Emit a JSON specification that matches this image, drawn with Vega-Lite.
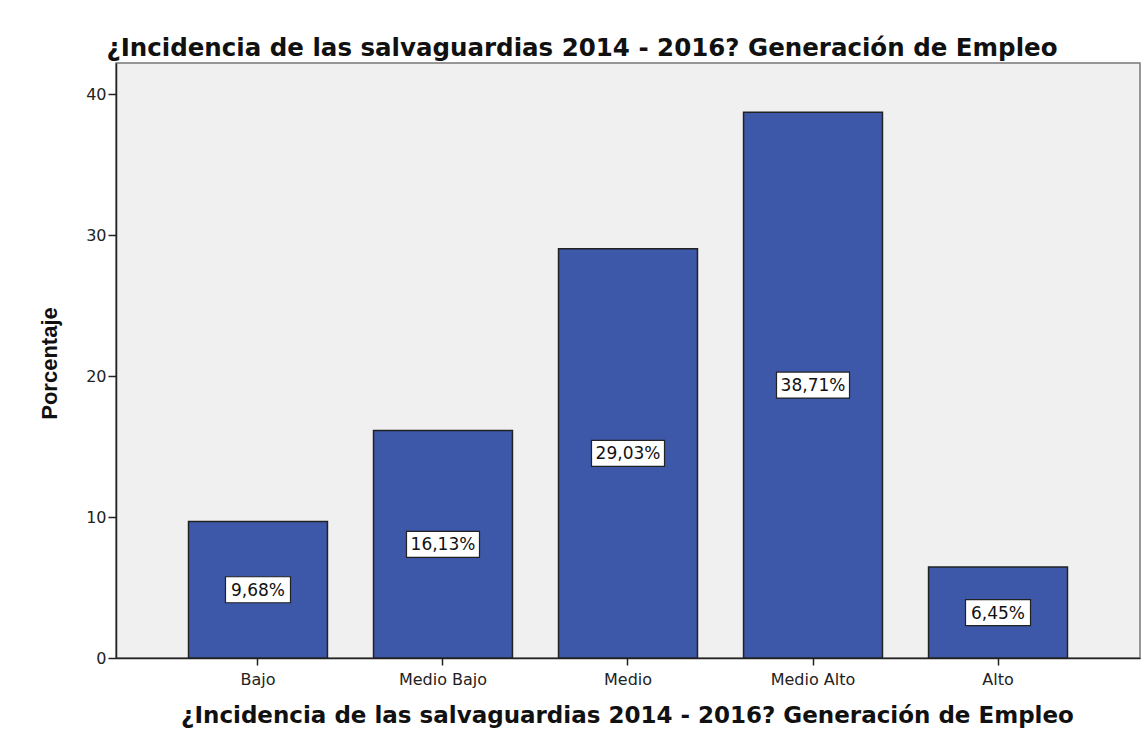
{
  "$schema": "https://vega.github.io/schema/vega-lite/v6.json",
  "width": 1024,
  "height": 595,
  "autosize": {"type": "none"},
  "padding": {"left": 116, "top": 63, "right": 2, "bottom": 81},
  "background": "white",
  "title": {
    "text": "¿Incidencia de las salvaguardias 2014 - 2016? Generación de Empleo",
    "font": "DejaVu Sans",
    "fontSize": 24.5,
    "fontWeight": "bold",
    "color": "#111111",
    "anchor": "middle",
    "frame": "group",
    "dx": -46,
    "dy": 25,
    "offset": 8,
    "baseline": "alphabetic"
  },
  "config": {
    "view": {"fill": "#f0f0f0", "stroke": "#777777", "strokeWidth": 1.5},
    "axis": {"grid": false}
  },
  "data": {
    "values": [
      {"cat": "Bajo", "value": 9.68, "label": "9,68%"},
      {"cat": "Medio Bajo", "value": 16.13, "label": "16,13%"},
      {"cat": "Medio", "value": 29.03, "label": "29,03%"},
      {"cat": "Medio Alto", "value": 38.71, "label": "38,71%"},
      {"cat": "Alto", "value": 6.45, "label": "6,45%"}
    ]
  },
  "transform": [
    {"calculate": "datum.value / 2", "as": "mid"},
    {"calculate": "length(datum.label)", "as": "len"}
  ],
  "encoding": {
    "x": {
      "field": "cat",
      "type": "nominal",
      "sort": null,
      "scale": {"paddingInner": 0.249, "paddingOuter": 0.392},
      "axis": {
        "title": "¿Incidencia de las salvaguardias 2014 - 2016? Generación de Empleo",
        "titleFont": "DejaVu Sans",
        "titleFontSize": 23,
        "titleFontWeight": "bold",
        "titleColor": "#111111",
        "titleBaseline": "alphabetic",
        "titleAnchor": "middle",
        "titleX": 511,
        "titleY": 64,
        "labelFont": "DejaVu Sans",
        "labelFontSize": 16,
        "labelColor": "#222222",
        "labelAngle": 0,
        "labelBaseline": "alphabetic",
        "labelPadding": 19,
        "tickSize": 7,
        "tickColor": "#222222",
        "tickWidth": 1.5,
        "domainColor": "#222222",
        "domainWidth": 1.5
      }
    }
  },
  "layer": [
    {
      "mark": {"type": "bar", "color": "#3d57a9", "stroke": "#222222", "strokeWidth": 1.5},
      "encoding": {
        "y": {
          "field": "value",
          "type": "quantitative",
          "scale": {"domain": [0, 42.2], "nice": false, "zero": true},
          "axis": {
            "values": [0, 10, 20, 30, 40],
            "title": "Porcentaje",
            "titleFont": "Liberation Sans",
            "titleFontSize": 22,
            "titleFontWeight": "bold",
            "titleColor": "#111111",
            "titleAngle": 270,
            "titleBaseline": "alphabetic",
            "titleX": -60,
            "titleY": 300,
            "titleAnchor": "middle",
            "labelFont": "DejaVu Sans",
            "labelFontSize": 16,
            "labelColor": "#222222",
            "labelPadding": 2,
            "tickSize": 8,
            "tickColor": "#222222",
            "tickWidth": 1.5,
            "domainColor": "#222222",
            "domainWidth": 1.5
          }
        }
      }
    },
    {
      "mark": {"type": "tick", "fill": "white", "stroke": "#222222", "strokeWidth": 1.2, "thickness": 26, "opacity": 1, "filled": true},
      "encoding": {
        "y": {"field": "mid", "type": "quantitative"},
        "size": {"field": "len", "type": "quantitative", "scale": {"domain": [5, 6], "range": [65, 73]}, "legend": null}
      }
    },
    {
      "mark": {"type": "text", "font": "DejaVu Sans", "fontSize": 17, "color": "#111111", "baseline": "middle", "align": "center", "dy": 1},
      "encoding": {
        "y": {"field": "mid", "type": "quantitative"},
        "text": {"field": "label"}
      }
    }
  ]
}
